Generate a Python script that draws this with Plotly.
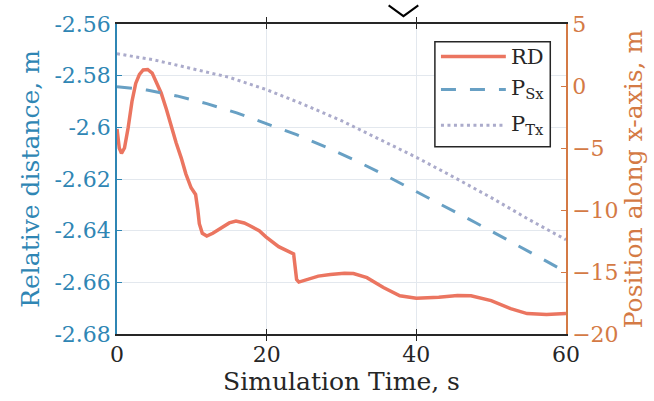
import plotly.graph_objects as go

# Relative distance RD (left axis, m)
t_rd = [0, 0.3, 0.6, 1.0, 1.5, 2.0, 2.5, 3.0, 3.5, 4.1, 4.7, 5.3, 5.9, 6.6, 7.2,
        7.9, 8.6, 9.2, 9.9, 10.5, 10.8, 11.0, 11.4, 12.0, 12.8, 13.8, 15.0, 15.9,
        17.0, 17.7, 19.0, 19.9, 21.6, 23.6, 23.8, 24.0, 24.3, 25.5, 26.9, 28.5,
        30.4, 31.6, 33.4, 35.6, 37.8, 40.0, 43.0, 45.5, 47.3, 50.0, 52.6, 54.8,
        57.4, 60.0]
rd = [-2.6006, -2.6080, -2.6101, -2.6080, -2.6000, -2.5900, -2.5830, -2.5795,
      -2.5778, -2.5776, -2.5790, -2.5825, -2.5867, -2.5930, -2.5994, -2.6060,
      -2.6120, -2.6180, -2.6234, -2.6260, -2.6320, -2.6373, -2.6410, -2.6421,
      -2.6410, -2.6390, -2.6370, -2.6363, -2.6370, -2.6380, -2.6400, -2.6424,
      -2.6462, -2.6490, -2.6540, -2.6589, -2.6599, -2.6588, -2.6576, -2.6570,
      -2.6565, -2.6566, -2.6582, -2.6620, -2.6652, -2.6662, -2.6658, -2.6651,
      -2.6652, -2.6671, -2.6702, -2.6721, -2.6725, -2.6721]

# Positions along the x-axis (right axis, m)
t_pos = [0, 4, 8, 12, 16, 20, 24, 28, 32, 36, 40, 44, 48, 52, 56, 60]
p_sx = [-0.05, -0.33, -0.80, -1.42, -2.17, -3.02, -3.92, -4.95, -6.05, -7.25,
        -8.50, -9.75, -11.05, -12.35, -13.70, -15.00]
t_ptx = [0, 5, 10, 15, 20, 25, 30, 35, 40, 45, 50, 55, 60]
p_tx = [2.60, 2.10, 1.40, 0.70, -0.30, -1.50, -2.80, -4.25, -5.75, -7.35, -9.00,
        -10.75, -12.40]

left_ticks = [-2.68, -2.66, -2.64, -2.62, -2.60, -2.58, -2.56]
left_labels = ["-2.68", "-2.66", "-2.64", "-2.62", "-2.6", "-2.58", "-2.56"]
right_ticks = [-20, -15, -10, -5, 0, 5]
x_ticks = [0, 20, 40, 60]

C_RD = "#EB7560"
C_SX = "#68A0C4"
C_TX = "#ABABCB"
C_LEFT = "#2F86B4"
C_RIGHT = "#D47A45"
FONT = "DejaVu Serif"

fig = go.Figure()
fig.add_trace(go.Scatter(x=t_rd, y=rd, mode="lines", name="RD",
                         line=dict(color=C_RD, width=3.5), yaxis="y"))
fig.add_trace(go.Scatter(x=t_pos, y=p_sx, mode="lines", name="P<sub>Sx</sub>",
                         line=dict(color=C_SX, width=3, dash="15px,14px"),
                         yaxis="y2"))
fig.add_trace(go.Scatter(x=t_ptx, y=p_tx, mode="lines", name="P<sub>Tx</sub>",
                         line=dict(color=C_TX, width=3, dash="3px,3.5px"),
                         yaxis="y2"))

fig.update_layout(
    width=654, height=401,
    margin=dict(l=117, r=81, t=18, b=67),
    paper_bgcolor="white", plot_bgcolor="white",
    showlegend=False,
    font=dict(family=FONT, size=22, color="#262626"),
    xaxis=dict(
        range=[0, 60], tickvals=x_ticks, ticks="inside", ticklen=5,
        tickcolor="#262626", showline=True, linecolor="#262626", linewidth=1.5,
        mirror="allticks", showgrid=True, gridcolor="#E3E8EE", gridwidth=1,
        zeroline=False, tickfont=dict(family=FONT, size=22, color="#262626"),
        title=dict(text="Simulation Time, s",
                   font=dict(family=FONT, size=25, color="#262626"),
                   standoff=1),
    ),
    yaxis=dict(
        range=[-2.68, -2.56], tickvals=left_ticks, ticktext=left_labels,
        ticks="inside", ticklen=5, tickcolor=C_LEFT, showline=True,
        linecolor=C_LEFT, linewidth=1.5, showgrid=True, gridcolor="#E3E8EE",
        gridwidth=1, zeroline=False,
        tickfont=dict(family=FONT, size=22, color=C_LEFT),
        title=dict(text="Relative distance, m",
                   font=dict(family=FONT, size=25, color=C_LEFT), standoff=8),
    ),
    yaxis2=dict(
        range=[-20, 5], tickvals=right_ticks, overlaying="y", side="right",
        ticks="inside", ticklen=5, tickcolor=C_RIGHT, showline=True,
        linecolor=C_RIGHT, linewidth=1.5, showgrid=False, zeroline=False,
        tickfont=dict(family=FONT, size=22, color=C_RIGHT),
        title=dict(text="Position along x-axis, m",
                   font=dict(family=FONT, size=25, color=C_RIGHT), standoff=6),
    ),
)

# Legend box drawn in paper coordinates
lx0, lx1, ly0, ly1 = 0.708, 0.965, 0.604, 0.943
fig.add_shape(type="rect", xref="paper", yref="paper", x0=lx0, x1=lx1,
              y0=ly0, y1=ly1, line=dict(color="#262626", width=1.5),
              fillcolor="white", layer="above")
legend_items = [
    ("RD", C_RD, "solid", 3.5, 0.895),
    ("P<sub>Sx</sub>", C_SX, "15px,14px", 3, 0.789),
    ("P<sub>Tx</sub>", C_TX, "3px,3.5px", 3, 0.673),
]
for label, color, dash, width, yy in legend_items:
    fig.add_shape(type="line", xref="paper", yref="paper", x0=0.7215, x1=0.866,
                  y0=yy, y1=yy, line=dict(color=color, width=width, dash=dash),
                  layer="above")
    fig.add_annotation(xref="paper", yref="paper", x=0.872, y=yy, text=label,
                       showarrow=False, xanchor="left", yanchor="middle",
                       font=dict(family=FONT, size=21, color="#262626"))

# Partial diamond marker above the axes
fig.add_shape(type="path", xref="paper", yref="paper",
              path="M 0.605 1.06 L 0.638 1.0253 L 0.671 1.06",
              line=dict(color="black", width=2))

fig.write_html("out.html")
